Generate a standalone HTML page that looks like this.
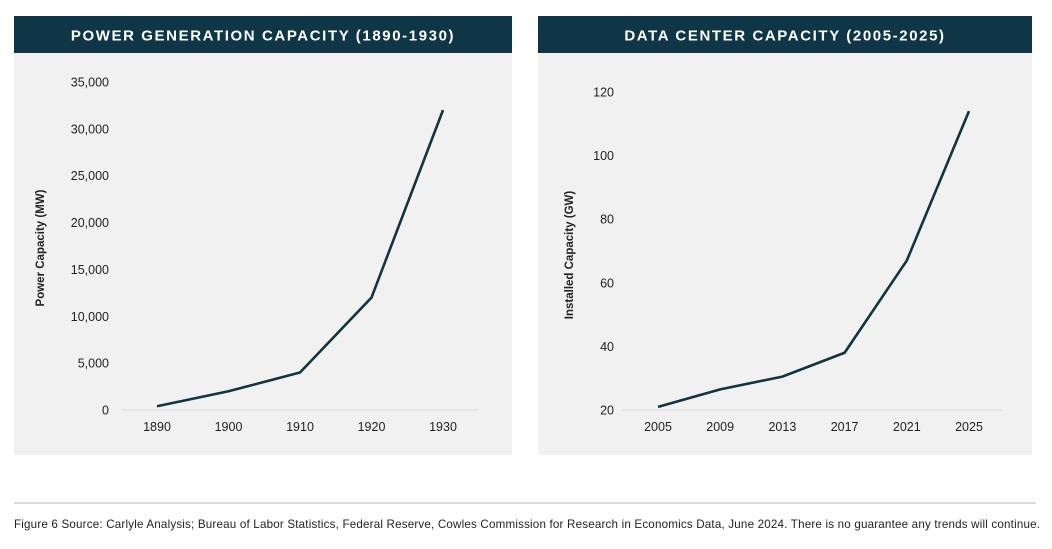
<!DOCTYPE html>
<html><head><meta charset="utf-8"><style>
body{margin:0;background:#fff;width:1052px;height:549px;overflow:hidden;font-family:"Liberation Sans",sans-serif}
svg{position:absolute;left:0;top:0}
</style></head><body>
<svg width="1052" height="549">
<g id="left"></g>
<g id="right"></g>
<line x1="14" y1="503" x2="1036" y2="503" stroke="#b5b5b5" stroke-width="1"/>
<text x="14" y="528" font-size="11.6" fill="#222" textLength="1026" lengthAdjust="spacing">Figure 6 Source: Carlyle Analysis; Bureau of Labor Statistics, Federal Reserve, Cowles Commission for Research in Economics Data, June 2024. There is no guarantee any trends will continue.</text>
</svg>
<script>
const powerYears=["1890","1900","1910","1920","1930"];
const powerValues=[400,2000,4000,12000,32000];
const powerTicks=[0,5000,10000,15000,20000,25000,30000,35000];
const powerTickLabels=["0","5,000","10,000","15,000","20,000","25,000","30,000","35,000"];
const dcYears=["2005","2009","2013","2017","2021","2025"];
const dcValues=[21,26.5,30.5,38,67,114];
const dcTicks=[20,40,60,80,100,120];
const dcTickLabels=["20","40","60","80","100","120"];
const NS="http://www.w3.org/2000/svg";
function mk(p,t,a){const e=document.createElementNS(NS,t);for(const k in a)e.setAttribute(k,a[k]);p.appendChild(e);return e;}
function panel(g,o){
  const bg=mk(g,'rect',{x:o.px,y:52,width:o.pw,height:403,fill:'#f1f1f1'});
  
  
  const hd=mk(g,'rect',{x:o.px,y:16,width:o.pw,height:37,fill:'#0e3647'});
  
  
  const ht=mk(g,'text',{x:o.px+o.pw/2,y:40.5,'text-anchor':'middle','font-size':15,'font-weight':'bold',fill:'#fff','letter-spacing':'1.6'});
  ht.textContent=o.title;
  
  
  const [d0,d1]=o.dom,[r0,r1]=[410,o.top];
  const ys=v=>r0+(v-d0)/(d1-d0)*(r1-r0);
  const xs=i=>o.x0+i*o.step;
  const base=mk(g,'line',{x1:o.bx0,x2:o.bx1,y1:410,y2:410,stroke:'#dcdcdc','stroke-width':1});
  
  
  o.ticks.forEach((t,i)=>{
    const e=mk(g,'text',{x:o.lx,y:ys(t)+4.5,'text-anchor':'end','font-size':12.5,fill:'#222'});
    e.textContent=o.tickLabels[i];
    
    
  });
  o.cats.forEach((c,i)=>{
    const e=mk(g,'text',{x:xs(i),y:431,'text-anchor':'middle','font-size':12.5,fill:'#222'});
    e.textContent=c;
    
    
  });
  const ty=mk(g,'text',{transform:`translate(${o.tx},${o.tyc}) rotate(-90)`,'text-anchor':'middle','font-size':11.5,'font-weight':'bold',fill:'#222'});
  ty.textContent=o.ytitle;
  
  
  const pl=mk(g,'polyline',{points:o.vals.map((v,i)=>xs(i)+','+ys(v)).join(' '),fill:'none',stroke:'#123340','stroke-width':2.6,'stroke-linejoin':'miter'});
  
  
}
panel(document.getElementById('left'),{px:14,pw:498,title:'POWER GENERATION CAPACITY (1890-1930)',dom:[0,35000],top:82,x0:157,step:71.5,bx0:122,bx1:478,lx:109,cats:powerYears,vals:powerValues,ticks:powerTicks,tickLabels:powerTickLabels,tx:44,tyc:248,ytitle:'Power Capacity (MW)'});
panel(document.getElementById('right'),{px:538,pw:494,title:'DATA CENTER CAPACITY (2005-2025)',dom:[20,120],top:92,x0:658,step:62.2,bx0:622,bx1:1002,lx:614,cats:dcYears,vals:dcValues,ticks:dcTicks,tickLabels:dcTickLabels,tx:573,tyc:255,ytitle:'Installed Capacity (GW)'});
</script>
</body></html>
